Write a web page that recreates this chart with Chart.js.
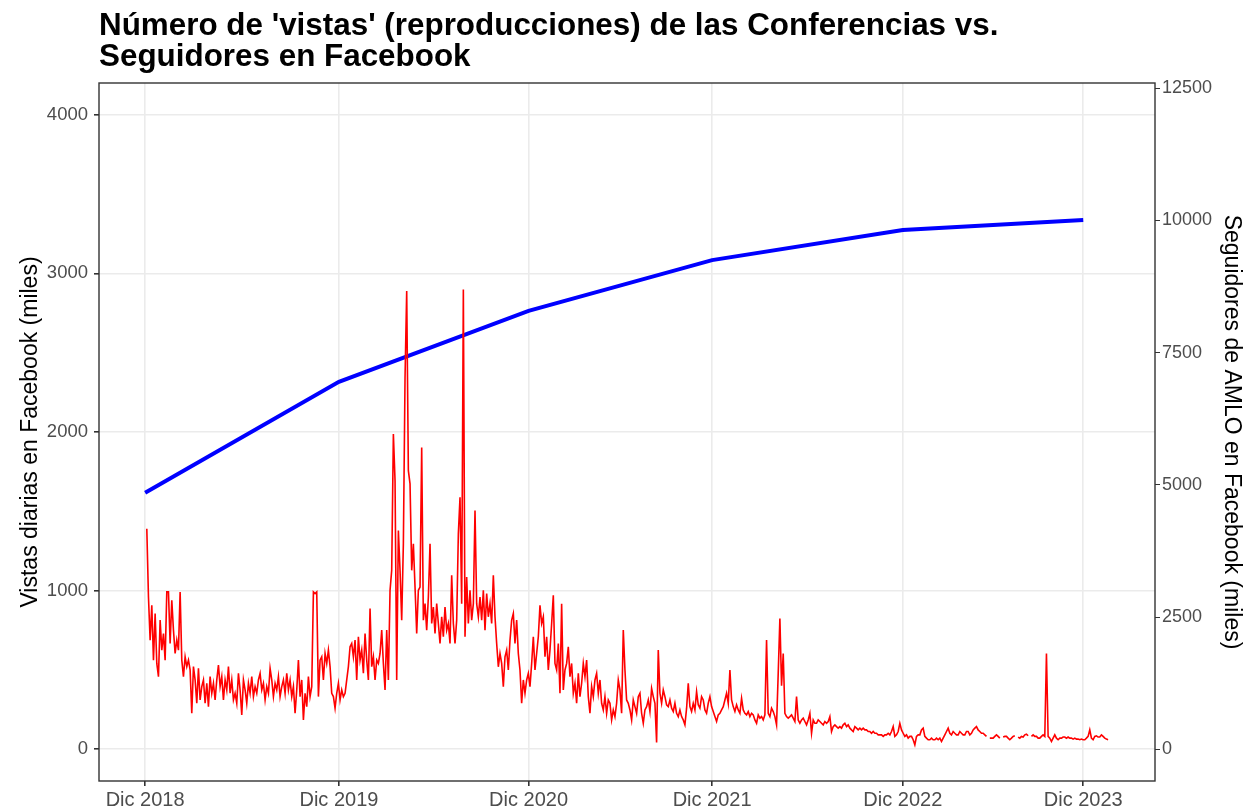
<!DOCTYPE html>
<html lang="es">
<head>
<meta charset="UTF-8">
<title>Vistas vs. Seguidores en Facebook</title>
<script src="https://cdn.jsdelivr.net/npm/chart.js"></script>
<style>
  body { margin: 0; background: #fff; }
</style>
</head>
<body>
<canvas id="grafica" width="1246" height="810"></canvas>
<script>
// eje x en días contados desde dic 2018
const diasTicks = [0, 378, 748, 1106, 1478, 1830];
const etiquetasX = ['Dic 2018', 'Dic 2019', 'Dic 2020', 'Dic 2021', 'Dic 2022', 'Dic 2023'];
const ticksVistas = [0, 1000, 2000, 3000, 4000];
const ticksSeguidores = [0, 2500, 5000, 7500, 10000, 12500];

// seguidores de AMLO (miles), uno por diciembre
const seguidores = [4850, 6950, 8290, 9250, 9820, 10010];

// vistas diarias (miles), leídas cada ~3 días
const diaInicio = 3.25;
const pasoDias = 3.25;
const vistas = [
  1390, 960, 688, 908, 562, 856, 541, 458, 814, 625,
  730, 562, 992, 992, 667, 939, 751, 604, 688, 625,
  992, 562, 458, 583, 521, 562, 500, 227, 521, 437,
  290, 510, 311, 395, 437, 290, 416, 269, 458, 353,
  416, 311, 437, 531, 395, 458, 311, 437, 374, 521,
  353, 437, 311, 353, 290, 479, 374, 217, 437, 374,
  290, 416, 353, 458, 332, 395, 353, 437, 479, 374,
  416, 311, 395, 353, 510, 437, 332, 416, 374, 458,
  332, 395, 437, 353, 479, 374, 437, 332, 395, 227,
  374, 562, 332, 437, 185, 353, 269, 458, 332, 395,
  992, 981, 992, 332, 562, 583, 437, 604, 541, 625,
  521, 353, 332, 259, 353, 416, 311, 374, 332, 353,
  437, 521, 646, 667, 583, 688, 437, 709, 562, 625,
  479, 730, 562, 437, 887, 521, 583, 437, 562, 541,
  604, 751, 541, 374, 751, 437, 1002, 1128, 1987, 1694,
  437, 1379, 1128, 814, 1296, 2343, 2888, 1756, 1673, 1128,
  1296, 1023, 730, 1002, 1023, 1903, 814, 918, 751, 960,
  1296, 793, 897, 730, 918, 793, 667, 835, 709, 897,
  751, 793, 667, 1097, 793, 667, 814, 1358, 1589, 918,
  2898, 709, 1086, 793, 1002, 814, 918, 1505, 918, 835,
  960, 814, 1002, 751, 981, 835, 918, 793, 1097, 835,
  667, 520, 604, 541, 395, 583, 625, 500, 688, 814,
  856, 667, 814, 604, 500, 290, 437, 353, 437, 479,
  395, 541, 709, 500, 604, 709, 908, 793, 835, 583,
  709, 500, 625, 793, 971, 541, 500, 667, 353, 918,
  374, 500, 541, 646, 458, 541, 353, 416, 290, 479,
  332, 416, 541, 458, 562, 332, 227, 395, 332, 437,
  479, 353, 437, 290, 248, 332, 227, 311, 290, 185,
  248, 206, 290, 437, 374, 227, 751, 500, 311, 290,
  248, 185, 311, 269, 227, 332, 353, 227, 164, 248,
  269, 311, 238, 384, 332, 290, 43, 625, 353, 290,
  374, 332, 280, 269, 311, 259, 238, 290, 227, 206,
  248, 206, 185, 154, 259, 416, 269, 238, 290, 248,
  363, 280, 259, 332, 311, 248, 227, 290, 332, 269,
  238, 206, 175, 217, 227, 248, 269, 311, 353, 290,
  499, 311, 269, 238, 280, 248, 227, 321, 248, 227,
  217, 238, 206, 227, 217, 185, 164, 217, 196, 206,
  185, 217, 688, 227, 206, 259, 238, 206, 154, 480,
  824, 400, 604, 227, 206, 196, 206, 217, 196, 175,
  332, 185, 164, 185, 196, 175, 154, 185, 227, 101,
  185, 164, 164, 185, 175, 164, 154, 175, 164, 175,
  206, 112, 143, 154, 143, 133, 143, 133, 154, 164,
  143, 154, 133, 122, 112, 143, 133, 122, 133, 122,
  133, 122, 122, 112, 112, 101, 112, 101, 101, 91,
  91, 91, 81, 91, 91, 101, 91, 112, 143, 81,
  91, 112, 164, 122, 101, 81, 91, 70, 81, 81,
  60, 28, 81, 91, 91, 122, 133, 81, 70, 60,
  60, 70, 60, 60, 70, 60, 70, 49, 70, 91,
  112, 133, 101, 91, 112, 101, 91, 91, 112, 101,
  91, 91, 112, 112, 91, 101, 122, 133, 143, 122,
  112, 101, 101, 91, 81, null, 70, 70, 70, 81,
  91, 81, 70, null, 77, 81, 81, 70, 60, 70,
  81, 85, null, 77, 70, 81, 77, 91, 95, 85,
  null, 81, 91, 81, 81, 70, 70, 81, 91, 81,
  604, 81, 70, 49, 70, 91, 70, 60, 70, 70,
  77, 77, 70, 77, 70, 70, 64, 70, 64, 64,
  60, 64, 60, 60, 70, 81, 122, 70, 60, 81,
  85, 77, 77, 91, 81, 70, 64, 60
];

const fuente = "'Liberation Sans', Arial, sans-serif";

const puntosVistas = vistas.map((v, i) => ({ x: diaInicio + i * pasoDias, y: v }));
const puntosSeguidores = seguidores.map((v, i) => ({ x: diasTicks[i], y: v }));

// titulo en dos lineas, alineado con el panel
const titulo = {
  id: 'titulo',
  afterDraw(chart) {
    const ctx = chart.ctx;
    ctx.save();
    ctx.fillStyle = '#000';
    ctx.font = 'bold 31.4px ' + fuente;
    ctx.textBaseline = 'alphabetic';
    ctx.fillText("Número de 'vistas' (reproducciones) de las Conferencias vs.", 99, 35);
    ctx.fillText('Seguidores en Facebook', 99, 66);
    ctx.restore();
  }
};

// borde del panel encima de las lineas
const marco = {
  id: 'marco',
  afterDatasetsDraw(chart) {
    const a = chart.chartArea;
    const ctx = chart.ctx;
    ctx.save();
    ctx.strokeStyle = '#333333';
    ctx.lineWidth = 1.4;
    ctx.strokeRect(a.left, a.top, a.right - a.left, a.bottom - a.top);
    ctx.restore();
  }
};

const numeroSimple = v => String(v);

new Chart(document.getElementById('grafica'), {
  type: 'line',
  data: {
    datasets: [
      {
        label: 'Vistas diarias',
        data: puntosVistas,
        yAxisID: 'y',
        borderColor: '#FF0000',
        borderWidth: 1.6,
        pointRadius: 0,
        tension: 0,
        spanGaps: false
      },
      {
        label: 'Seguidores',
        data: puntosSeguidores,
        yAxisID: 'y2',
        borderColor: '#0000FF',
        borderWidth: 4,
        pointRadius: 0,
        tension: 0
      }
    ]
  },
  options: {
    responsive: false,
    devicePixelRatio: 1,
    animation: false,
    layout: { padding: { top: 83, left: 0, right: 0, bottom: 0 } },
    plugins: {
      legend: { display: false },
      tooltip: { enabled: false }
    },
    scales: {
      x: {
        type: 'linear',
        min: -90,
        max: 1970,
        afterBuildTicks: s => { s.ticks = diasTicks.map(v => ({ value: v })); },
        afterFit: s => { s.height = 29; },
        grid: { color: '#EBEBEB', lineWidth: 1.6, tickColor: '#333333', tickLength: 5 },
        border: { display: false },
        ticks: {
          color: '#4D4D4D',
          font: { family: fuente, size: 20 },
          padding: 2,
          maxRotation: 0,
          callback: (v, i) => etiquetasX[i]
        }
      },
      y: {
        position: 'left',
        min: -200,
        max: 4200,
        afterBuildTicks: s => { s.ticks = ticksVistas.map(v => ({ value: v })); },
        afterFit: s => { s.width = 99; },
        grid: { color: '#EBEBEB', lineWidth: 1.6, tickColor: '#333333', tickLength: 5 },
        border: { display: false },
        ticks: {
          color: '#4D4D4D',
          font: { family: fuente, size: 18.5 },
          padding: 6,
          callback: numeroSimple
        },
        title: {
          display: true,
          text: 'Vistas diarias en Facebook (miles)',
          color: '#000',
          font: { family: fuente, size: 23, lineHeight: 1.2 },
          padding: { top: 17, bottom: 0 }
        }
      },
      y2: {
        position: 'right',
        min: -600,
        max: 12600,
        afterBuildTicks: s => { s.ticks = ticksSeguidores.map(v => ({ value: v })); },
        afterFit: s => { s.width = 91; },
        grid: { drawOnChartArea: false, tickColor: '#333333', tickLength: 5 },
        border: { display: false },
        ticks: {
          color: '#4D4D4D',
          font: { family: fuente, size: 18 },
          padding: 2,
          callback: numeroSimple
        },
        title: {
          display: true,
          text: 'Seguidores de AMLO en Facebook (miles)',
          color: '#000',
          font: { family: fuente, size: 23, lineHeight: 1.2 },
          padding: { top: 1, bottom: 0 }
        }
      }
    }
  },
  plugins: [titulo, marco]
});
</script>
</body>
</html>
